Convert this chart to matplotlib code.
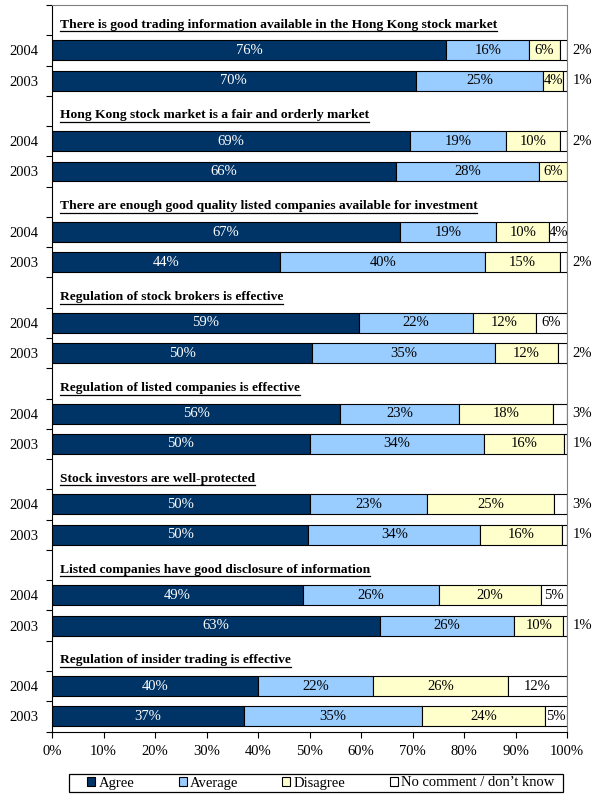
import matplotlib
matplotlib.use("Agg")
import matplotlib.pyplot as plt
from matplotlib.patches import Patch, Rectangle

plt.rcParams['font.family'] = ['Liberation Serif', 'DejaVu Serif']
plt.rcParams['font.size'] = 10.5

# data
questions = [
    "There is good trading information available in the Hong Kong stock market",
    "Hong Kong stock market is a fair and orderly market",
    "There are enough good quality listed companies available for investment",
    "Regulation of stock brokers is effective",
    "Regulation of listed companies is effective",
    "Stock investors are well-protected",
    "Listed companies have good disclosure of information",
    "Regulation of insider trading is effective",
]
years = ["2004", "2003"]
series = ["Agree", "Average", "Disagree", "No comment / don\u2019t know"]
colors = ["#003366", "#99CCFF", "#FFFFCC", "#FFFFFF"]

# bar shares, rows in order q1-2004, q1-2003, q2-2004, q2-2003, ...
agree = [76.5, 70.6, 69.5, 66.7, 67.5, 44.3, 59.7, 50.5,
         56.0, 50.0, 50.0, 49.8, 48.8, 63.6, 40.0, 37.3]
average = [16.2, 24.8, 18.7, 27.9, 18.7, 39.8, 22.0, 35.5,
           23.1, 33.8, 22.9, 33.4, 26.3, 26.1, 22.4, 34.6]
disagree = [5.9, 3.9, 10.5, 5.4, 10.4, 14.6, 12.3, 12.3,
            18.2, 15.7, 24.5, 15.9, 19.9, 9.6, 26.1, 23.9]
nocomment = [1.4, 0.7, 1.3, 0.0, 3.4, 1.3, 6.0, 1.7,
             2.7, 0.5, 2.6, 0.9, 5.0, 0.7, 11.5, 4.2]

# printed labels
agree_lbl = [76, 70, 69, 66, 67, 44, 59, 50, 56, 50, 50, 50, 49, 63, 40, 37]
average_lbl = [16, 25, 19, 28, 19, 40, 22, 35, 23, 34, 23, 34, 26, 26, 22, 35]
disagree_lbl = [6, 4, 10, 6, 10, 15, 12, 12, 18, 16, 25, 16, 20, 10, 26, 24]
nocomment_lbl = [2, 1, 2, 0, 4, 2, 6, 2, 3, 1, 3, 1, 5, 1, 12, 5]

shares = [agree, average, disagree, nocomment]
labels = [agree_lbl, average_lbl, disagree_lbl, nocomment_lbl]

fig = plt.figure(figsize=(6.04, 8.02), dpi=100)
ax = fig.add_axes([52 / 604, 1 - 731.5 / 802, 515 / 604, 726.5 / 802])

n_rows = 3 * len(questions)
year_pos = []
year_lab = []
for g in range(len(questions)):
    for k, yr in enumerate(years):
        i = 2 * g + k
        y = 3 * g + 1 + k
        year_pos.append(y)
        year_lab.append(yr)
        left = 0
        for s in range(4):
            v = shares[s][i]
            lab = labels[s][i]
            if v == 0:
                continue
            ax.barh(y, v, left=left, height=0.66, color=colors[s],
                    edgecolor="black", linewidth=0.8)
            if s == 3 and lab <= 3:
                ax.text(101.1, y, f"{lab}%", ha="left", va="center", clip_on=False)
            else:
                ax.text(left + v / 2, y, f"{lab}%", ha="center", va="center",
                        color="white" if s == 0 else "black")
            left += v

titles = []
for g, q in enumerate(questions):
    t = ax.text(1.5, 3 * g + 0.15, q, ha="left", va="center",
                fontweight="bold", fontsize=9.7)
    titles.append(t)

ax.set_xlim(0, 100)
ax.set_ylim(n_rows - 0.5, -0.5)
ax.set_xticks(range(0, 101, 10))
ax.set_xticklabels([f"{x}%" for x in range(0, 101, 10)])
ax.set_yticks(year_pos)
ax.set_yticklabels(year_lab)
ax.set_yticks([i - 0.5 for i in range(n_rows + 1)], minor=True)
ax.tick_params(axis="y", which="major", length=0, pad=10)
ax.tick_params(axis="y", which="minor", length=4, direction="out", width=0.8)
ax.tick_params(axis="x", length=4, direction="out", width=0.8, pad=6)
ax.spines["top"].set_color("#808080")
ax.spines["right"].set_color("#808080")

# underline the question titles
fig.canvas.draw()
r = fig.canvas.get_renderer()
inv = ax.transData.inverted()
for t in titles:
    bb = t.get_window_extent(renderer=r)
    (x0, y0), (x1, _) = inv.transform([(bb.x0, bb.y0), (bb.x1, bb.y0)])
    ax.plot([x0, x1], [y0 + 0.02, y0 + 0.02], color="black", linewidth=0.9)

# legend with its own frame
fig.patches.append(Rectangle((69 / 604, 1 - 792 / 802), 494 / 604, 18 / 802,
                             transform=fig.transFigure, facecolor="white",
                             edgecolor="black", linewidth=0.9))
handles = [Patch(facecolor=c, edgecolor="black", linewidth=0.8) for c in colors]
fig.legend(handles, series, loc="center", ncol=4,
           bbox_to_anchor=(321 / 604, 1 - 783 / 802),
           frameon=False, handlelength=0.55, handleheight=0.55,
           handletextpad=0.25, columnspacing=3.0, borderpad=0)

fig.savefig("out.png", dpi=100)
